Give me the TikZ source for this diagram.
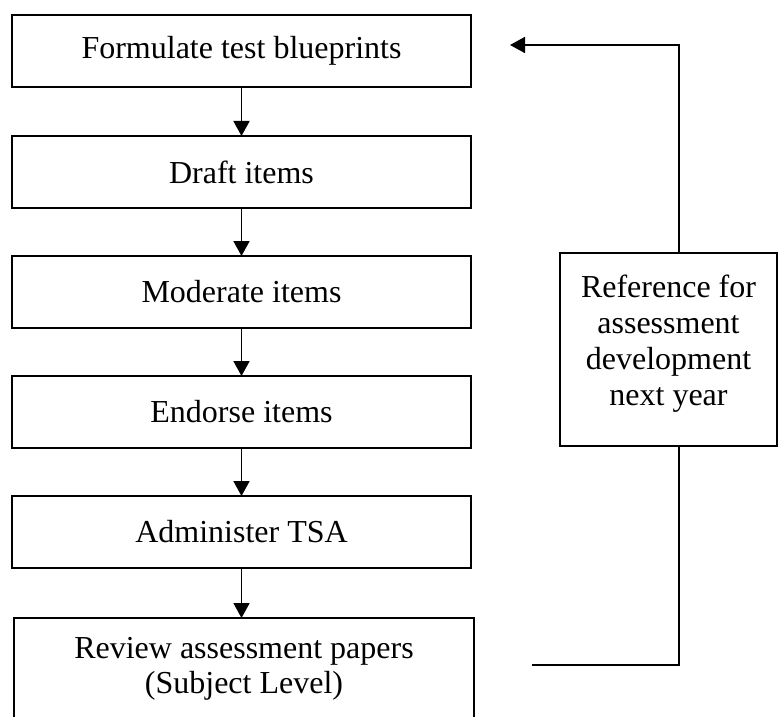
\documentclass[tikz,border=0pt]{standalone}
\usepackage{fontspec}
\setmainfont{Liberation Serif}
\usetikzlibrary{arrows.meta}
\tikzset{
  stepbox/.style={draw, line width=1pt, inner sep=0pt, outer sep=0pt, minimum width=229.5pt, minimum height=36pt, font=\fontsize{16}{18.5}\selectfont},
  plainbox/.style={draw, line width=1pt, inner sep=0pt, outer sep=0pt},
  txt/.style={align=center, inner sep=0pt, font=\fontsize{16}{18}\selectfont},
  flow/.style={line width=0.9pt, -{Triangle[length=7.5pt,width=8pt]}},
  link/.style={line width=0.9pt}
}
\begin{document}
\begin{tikzpicture}[x=0.5pt,y=-0.5pt]
\useasboundingbox (0,0) rectangle (779,716);
\node[stepbox] (b1) at (241.5,51) {Formulate test blueprints};
\node[stepbox] (b2) at (241.5,172) {Draft items};
\node[stepbox] (b3) at (241.5,292) {Moderate items};
\node[stepbox] (b4) at (241.5,412) {Endorse items};
\node[stepbox] (b5) at (241.5,532) {Administer TSA};
\node[plainbox, minimum width=230pt, minimum height=56pt] (b6) at (244,674) {};
\node[txt, font=\fontsize{16}{17.5}\selectfont] (b6t) at (244,669) {Review assessment papers\\(Subject Level)};
\node[plainbox, minimum width=108.5pt, minimum height=96.5pt] (ref) at (668.5,349.5) {};
\node[txt] (reft) at (668.5,344) {Reference for\\assessment\\development\\next year};
\draw[flow] (b1) -- (b2);
\draw[flow] (b2) -- (b3);
\draw[flow] (b3) -- (b4);
\draw[flow] (b4) -- (b5);
\draw[flow] (b5.south) -- (b5.south |- b6.north);
\coordinate (fbtip) at (510,45);
\coordinate (fbend) at (532,665);
\draw[flow] ([xshift=5.25pt]ref.north) |- (fbtip);
\draw[link] ([xshift=5.25pt]ref.south) |- (fbend);
\end{tikzpicture}
\end{document}
